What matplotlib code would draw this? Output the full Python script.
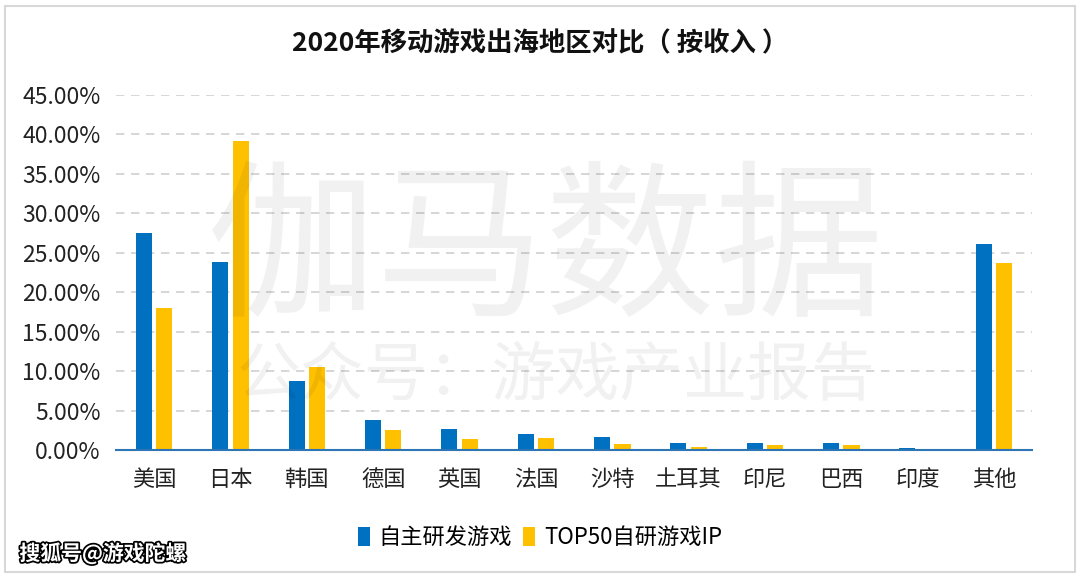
import numpy as np
import matplotlib
matplotlib.use('Agg')
import matplotlib.pyplot as plt
import matplotlib.patheffects as pe
from matplotlib.ticker import PercentFormatter
from matplotlib.patches import Rectangle

plt.rcParams['font.family'] = ['Noto Sans CJK SC', 'DejaVu Sans']

# 数据
regions = ['美国', '日本', '韩国', '德国', '英国', '法国', '沙特', '土耳其', '印尼', '巴西', '印度', '其他']
self_dev = [27.5, 23.8, 8.7, 3.85, 2.6, 2.0, 1.65, 0.85, 0.85, 0.85, 0.25, 26.15]
top50_ip = [18.0, 39.2, 10.5, 2.5, 1.35, 1.5, 0.72, 0.4, 0.63, 0.63, 0.0, 23.7]
series_names = ['自主研发游戏', 'TOP50自研游戏IP']
colors = ['#0070C0', '#FFC000']

fig = plt.figure(figsize=(10.8, 5.78), dpi=100)
ax = fig.add_axes([0.1074, 0.2215, 0.8482, 0.6141])

x = np.arange(len(regions))
w = 0.21
ax.bar(x - 0.135, self_dev, w, color=colors[0], label=series_names[0], zorder=2)
ax.bar(x + 0.135, top50_ip, w, color=colors[1], label=series_names[1], zorder=2)

ax.set_xlim(-0.5, len(regions) - 0.5)
ax.set_ylim(0, 45)
ax.set_yticks(np.arange(0, 46, 5))
ax.yaxis.set_major_formatter(PercentFormatter(decimals=2))
ax.set_xticks(x)
ax.set_xticklabels(regions)
ax.tick_params(axis='y', length=0, pad=11, labelsize=16.5, labelcolor='#222222')
ax.tick_params(axis='x', length=0, pad=13, labelsize=16, labelcolor='#222222')
ax.grid(axis='y', linestyle=(0, (5, 4)), color='#d0d0d0', linewidth=1.2, zorder=0)
for s in ['top', 'right', 'left']:
    ax.spines[s].set_visible(False)
ax.spines['bottom'].set_color('#2E75B6')
ax.spines['bottom'].set_linewidth(1.5)

# 标题
fig.text(0.5, 0.925, '2020年移动游戏出海地区对比（ 按收入 ）', ha='center', va='center',
         fontsize=19, fontweight='bold', color='#111111')

# 图例
fig.legend(loc='center', bbox_to_anchor=(0.5, 0.07), ncol=2, frameon=False,
           fontsize=16, handlelength=0.55, handleheight=0.9, handletextpad=0.4,
           columnspacing=0.5)

# 水印
fig.text(0.505, 0.56, '伽马数据', ha='center', va='center', fontsize=122,
         color='#000000', alpha=0.055, zorder=5)
fig.text(0.515, 0.35, '公众号：游戏产业报告', ha='center', va='center', fontsize=46,
         color='#000000', alpha=0.055, zorder=5)

# 外框
fig.patches.append(Rectangle((0.005, 0.01), 0.99, 0.98, transform=fig.transFigure,
                             fill=False, edgecolor='#d8d8d8', linewidth=1.5))

# 搜狐号
fig.text(0.018, 0.043, '搜狐号@游戏陀螺', ha='left', va='center', fontsize=15,
         fontweight='bold', color='white',
         path_effects=[pe.withStroke(linewidth=2.5, foreground='black')])

fig.savefig('out.png', dpi=100)
plt.close(fig)
